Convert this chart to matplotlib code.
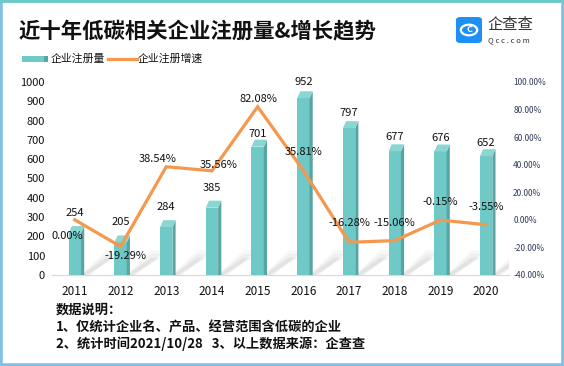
import matplotlib
matplotlib.use("Agg")
import matplotlib.pyplot as plt
from matplotlib.patches import Rectangle, Polygon, FancyBboxPatch, Circle
from matplotlib.lines import Line2D

plt.rcParams["font.family"] = ["Noto Sans CJK SC", "DejaVu Sans"]

# ---------------------------------------------------------------------------
# Data
# ---------------------------------------------------------------------------
YEARS = ["2011", "2012", "2013", "2014", "2015", "2016", "2017", "2018", "2019", "2020"]
COUNTS = [254, 205, 284, 385, 701, 952, 797, 677, 676, 652]
GROWTH = [0.00, -19.29, 38.54, 35.56, 82.08, 35.81, -16.28, -15.06, -0.15, -3.55]

TITLE = "近十年低碳相关企业注册量&增长趋势"
LEGEND_BAR = "企业注册量"
LEGEND_LINE = "企业注册增速"
NOTES = [
    "数据说明：",
    "1、仅统计企业名、产品、经营范围含低碳的企业",
    "2、统计时间2021/10/28   3、以上数据来源：企查查",
]

# ---------------------------------------------------------------------------
# Style
# ---------------------------------------------------------------------------
TEAL = "#6fc9c6"
TEAL_TOP = "#8ad6d3"
TEAL_SIDE = "#57a6a3"
ORANGE = "#f5974c"
W, H = 564, 366

# label offsets in pixels (dx, dy) for the growth labels
PCT_OFF = [(-8, -16), (5, -10), (-9, 8), (7, 6), (1, 8),
           (0, 18), (0, 19), (0, 18), (0, 18), (0, 18)]
BAR_OFF = [13, 13, 13, 13, 6, 9, 8, 7, 7, 6]


def px(x, y):
    """pixel (top-left origin) -> figure fraction"""
    return x / W, 1 - y / H


def main():
    fig = plt.figure(figsize=(W / 100, H / 100), dpi=100)
    fig.patch.set_facecolor("white")

    l, b = px(52, 275)
    r, t = px(509, 82)
    ax = fig.add_axes([l, b, r - l, t - b])
    ax.set_facecolor("none")
    ax2 = ax.twinx()

    n = len(YEARS)
    xs = list(range(n))
    bw = 0.27
    ddx = 0.07   # 3d depth, x
    ddy = 36     # 3d depth, y (left axis units)

    for x, v in zip(xs, COUNTS):
        x0, x1 = x - bw / 2, x + bw / 2
        ftop = v - ddy
        # soft shadow
        for k, a in enumerate([0.10, 0.07, 0.05]):
            ax.add_patch(Polygon(
                [(x1, 0), (x1 + 0.12 + 0.05 * k, 0),
                 (x1 + 0.75 + 0.05 * k, 90 + 20 * k), (x1 + 0.55, 90 + 20 * k)],
                closed=True, facecolor="#808080", edgecolor="none", alpha=a, zorder=1))
        ax.add_patch(Rectangle((x0, 0), bw, ftop, facecolor=TEAL,
                               edgecolor="none", zorder=3))
        ax.add_patch(Polygon([(x1, 0), (x1 + ddx, 0), (x1 + ddx, v), (x1, ftop)],
                             closed=True, facecolor=TEAL_SIDE, edgecolor="none", zorder=3))
        ax.add_patch(Polygon([(x0, ftop), (x1, ftop), (x1 + ddx, v), (x0 + ddx, v)],
                             closed=True, facecolor=TEAL_TOP, edgecolor="none", zorder=3))

    for x, v, dy in zip(xs, COUNTS, BAR_OFF):
        ax.annotate(str(v), (x, v), xytext=(0, dy), textcoords="offset pixels",
                    ha="center", va="center", fontsize=8, color="#111111", zorder=5)

    ax.set_xlim(-0.5, n - 0.5)
    ax.set_ylim(0, 1000)
    ax.set_yticks(range(0, 1001, 100))
    ax.set_xticks(xs)
    ax.set_xticklabels(YEARS)
    ax.tick_params(axis="y", length=0, pad=5, labelsize=8, colors="#111111")
    ax.tick_params(axis="x", length=0, pad=7, labelsize=8.5, colors="#111111")
    for s in ["top", "left", "right"]:
        ax.spines[s].set_visible(False)
    ax.spines["bottom"].set_color("#d9d9d9")
    ax.spines["bottom"].set_linewidth(0.8)

    ax2.plot(xs, GROWTH, color=ORANGE, linewidth=2.3, solid_joinstyle="miter", zorder=4)
    for x, g, (dx, dy) in zip(xs, GROWTH, PCT_OFF):
        ax2.annotate(f"{g:.2f}%", (x, g), xytext=(dx, dy), textcoords="offset pixels",
                     ha="center", va="center", fontsize=8, color="#111111", zorder=6)
    ax2.set_ylim(-40, 100)
    ax2.set_yticks(range(-40, 101, 20))
    ax2.set_yticklabels([f"{v:.2f}%" for v in range(-40, 101, 20)])
    ax2.tick_params(axis="y", length=0, pad=3, labelsize=6, colors="#2f3a56")
    for s in ax2.spines.values():
        s.set_visible(False)

    # title
    fig.text(*px(19, 32), TITLE, fontsize=15.4, fontweight="bold",
             ha="left", va="center", color="#111111")

    # logo
    lx, ly = px(456, 43)
    fig.add_artist(FancyBboxPatch((lx, ly), 26 / W, 26 / H,
                                  boxstyle="round,pad=0,rounding_size=0.008",
                                  transform=fig.transFigure, facecolor="#1e8ff5",
                                  edgecolor="none"))
    fig.add_artist(Circle(px(469, 30), 0.0145, transform=fig.transFigure,
                          facecolor="none", edgecolor="white", linewidth=1.6))
    fig.text(*px(469.5, 30), "C", fontsize=6.5, fontweight="bold", color="white",
             ha="center", va="center")
    fig.text(*px(487, 24), "企查查", fontsize=11, color="#333333",
             ha="left", va="center")
    fig.text(*px(488, 40), "Q c c . c o m", fontsize=5.5, color="#333333",
             ha="left", va="center")

    # legend
    fig.add_artist(Rectangle(px(22, 62), 22 / W, 6 / H, transform=fig.transFigure,
                             facecolor=TEAL, edgecolor="none"))
    fig.add_artist(Rectangle(px(44, 62), 4 / W, 6 / H, transform=fig.transFigure,
                             facecolor=TEAL_SIDE, edgecolor="none"))
    fig.text(*px(51, 59), LEGEND_BAR, fontsize=7.8, ha="left", va="center",
             color="#111111")
    x0, y0 = px(108, 59)
    x1, _ = px(137, 59)
    fig.add_artist(Line2D([x0, x1], [y0, y0], transform=fig.transFigure,
                          color=ORANGE, linewidth=2.3))
    fig.text(*px(138, 59), LEGEND_LINE, fontsize=7.8, ha="left", va="center",
             color="#111111")

    # notes
    for i, line in enumerate(NOTES):
        fig.text(*px(56, 310 + 17 * i), line, fontsize=9.5, fontweight="bold",
                 ha="left", va="center", color="#111111")

    # frame
    fig.add_artist(Rectangle((0, 0), 1, 1, transform=fig.transFigure,
                             facecolor="none", edgecolor="#7ec1e6", linewidth=4))
    fig.add_artist(Line2D([0, 1], [1, 1], transform=fig.transFigure,
                          color="#6ccbc7", linewidth=4))

    fig.savefig("out.png", dpi=100, facecolor="white")
    plt.close(fig)


if __name__ == "__main__":
    main()
